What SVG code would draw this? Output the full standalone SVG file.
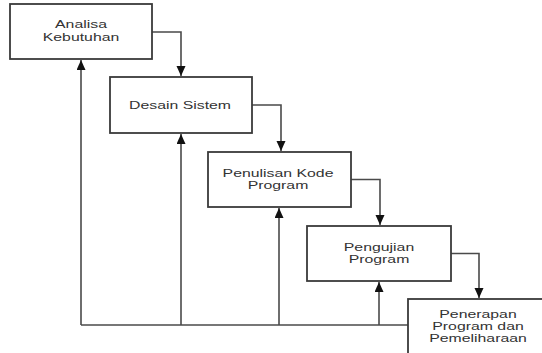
<svg xmlns="http://www.w3.org/2000/svg" width="542" height="353" viewBox="0 0 542 353">
  <style>
    .box { fill: #ffffff; stroke: #3a3a3a; stroke-width: 1.8; }
    .lbl { font-family: "Liberation Sans", Arial, sans-serif; font-size: 11px; fill: #333333; text-anchor: middle; }
    .conn { fill: none; stroke: #4a4a4a; stroke-width: 1.6; }
  </style>
  <defs>
    <marker id="arr" markerUnits="userSpaceOnUse" markerWidth="10" markerHeight="10" refX="10" refY="4.5" orient="auto">
      <path d="M0,0 L10,4.5 L0,9 z" fill="#111111"/>
    </marker>
  </defs>
  <rect width="542" height="353" fill="#ffffff"/>

  <g id="connectors">
    <path class="conn" d="M152,32 H181 V76" marker-end="url(#arr)"/>
    <path class="conn" d="M252,105 H281 V151" marker-end="url(#arr)"/>
    <path class="conn" d="M351,179.5 H380 V225" marker-end="url(#arr)"/>
    <path class="conn" d="M451,253.5 H479 V298" marker-end="url(#arr)"/>
    <path class="conn" d="M408,325 H81"/>
    <path class="conn" d="M81,325 V60" marker-end="url(#arr)"/>
    <path class="conn" d="M181,325 V134" marker-end="url(#arr)"/>
    <path class="conn" d="M279,325 V208" marker-end="url(#arr)"/>
    <path class="conn" d="M379,325 V282" marker-end="url(#arr)"/>
  </g>

  <g id="analisa">
    <rect class="box" x="10" y="4" width="142" height="55"/>
    <text class="lbl" transform="translate(81,28) scale(1.44,1)">Analisa</text>
    <text class="lbl" transform="translate(81,40.5) scale(1.44,1)">Kebutuhan</text>
  </g>
  <g id="desain">
    <rect class="box" x="110" y="77" width="142" height="56"/>
    <text class="lbl" transform="translate(180,108.5) scale(1.44,1)">Desain Sistem</text>
  </g>
  <g id="penulisan">
    <rect class="box" x="208" y="152" width="143" height="55"/>
    <text class="lbl" transform="translate(278,177) scale(1.44,1)">Penulisan Kode</text>
    <text class="lbl" transform="translate(278,189) scale(1.44,1)">Program</text>
  </g>
  <g id="pengujian">
    <rect class="box" x="307" y="226" width="144" height="55"/>
    <text class="lbl" transform="translate(379,250.5) scale(1.44,1)">Pengujian</text>
    <text class="lbl" transform="translate(379,263) scale(1.44,1)">Program</text>
  </g>
  <g id="penerapan">
    <rect class="box" x="408" y="299" width="142" height="70"/>
    <text class="lbl" transform="translate(478,318) scale(1.44,1)">Penerapan</text>
    <text class="lbl" transform="translate(478,330) scale(1.44,1)">Program dan</text>
    <text class="lbl" transform="translate(478,341.5) scale(1.44,1)">Pemeliharaan</text>
  </g>
</svg>
